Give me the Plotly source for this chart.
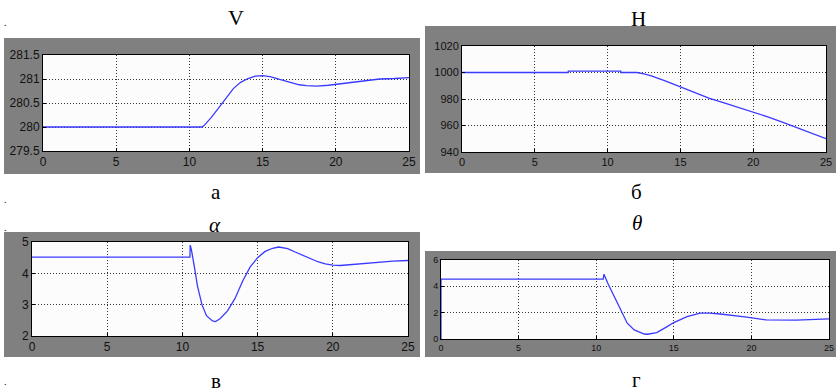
import plotly.graph_objects as go

W, H = 836, 392

# ---- data ----
t_v = [0, 10.86, 11.0, 11.5, 12.0, 12.5, 13.0, 13.5, 14.0, 14.5, 15.0, 15.5, 16.0, 16.5, 17.0,
       17.5, 18.0, 18.7, 19.5, 20.0, 21.0, 22.0, 23.0, 24.0, 25.0]
v_v = [280, 280, 280.03, 280.2, 280.4, 280.6, 280.8, 280.93, 281.01, 281.06, 281.07, 281.05, 281.01,
       280.96, 280.92, 280.88, 280.86, 280.85, 280.87, 280.89, 280.93, 280.97, 281.0, 281.01, 281.03]

t_h = [0, 7.3, 7.3, 10.9, 10.9, 12.0, 12.5, 13, 14, 15, 16, 17, 18, 19, 20, 21, 22, 23, 24, 25]
v_h = [1000, 1000, 1001, 1001, 1000, 1000, 999, 997.5, 993.5, 989, 984.5, 980.5, 977, 973.5,
       970.5, 966.5, 962.5, 958.5, 954.3, 950]

t_a = [0, 10.5, 10.52, 10.6, 10.8, 11.0, 11.3, 11.6, 12.0, 12.2, 12.5, 13.0, 13.5, 14.0, 14.5,
       15.0, 15.5, 16.0, 16.4, 17.0, 17.5, 18.0, 18.5, 19.0, 19.5, 20.0, 20.5, 21, 22, 23, 24, 25]
v_a = [4.52, 4.52, 4.9, 4.75, 4.2, 3.6, 3.0, 2.65, 2.48, 2.46, 2.55, 2.8, 3.2, 3.75, 4.2,
       4.5, 4.7, 4.8, 4.84, 4.79, 4.68, 4.57, 4.46, 4.37, 4.3, 4.26, 4.25, 4.27, 4.31, 4.36, 4.39, 4.41]

t_th = [0, 0, 10.45, 10.5, 10.74, 11.17, 11.6, 12.0, 12.45, 13.1, 13.3, 13.9, 14.57, 15.0, 15.85,
        16.7, 17.3, 18.0, 19.7, 20.95, 22.9, 25.0]
v_th = [0, 4.55, 4.55, 4.92, 4.26, 3.24, 2.1, 1.2, 0.69, 0.38, 0.36, 0.48, 0.94, 1.25, 1.7,
        1.96, 1.96, 1.9, 1.66, 1.45, 1.43, 1.53]

titles = ["V", "H", "α", "θ"]
labels = ["а", "б", "в", "г"]

# ---- layout geometry (pixels) ----
def px(x):
    return x / W

def py(y):
    return 1 - y / H

panels = [
    dict(plot=(43, 409, 55, 151), gray=(4, 420, 38, 174), fs=12, yr=[279.5, 281.5], dt=0.5, t=t_v, v=v_v),
    dict(plot=(462, 826, 46, 152), gray=(425, 836, 26, 173), fs=11, yr=[940, 1020], dt=20, t=t_h, v=v_h),
    dict(plot=(32, 408, 242, 336), gray=(4, 420, 232, 357), fs=12, yr=[2, 5], dt=1, t=t_a, v=v_a),
    dict(plot=(441, 829, 260, 339), gray=(425, 836, 251, 357), fs=9, yr=[0, 6], dt=2, t=t_th, v=v_th),
]

fig = go.Figure()
shapes = []
for i, p in enumerate(panels):
    n = "" if i == 0 else str(i + 1)
    x0, x1, y0, y1 = p["plot"]
    gx0, gx1, gy0, gy1 = p["gray"]
    shapes.append(dict(type="rect", xref="paper", yref="paper", x0=px(gx0), x1=px(gx1),
                       y0=py(gy1), y1=py(gy0), fillcolor="#808080", line_width=0, layer="below"))
    shapes.append(dict(type="rect", xref="paper", yref="paper", x0=px(x0), x1=px(x1),
                       y0=py(y1), y1=py(y0), fillcolor="#fcfcfc", line_width=0, layer="below"))
    fig.add_trace(go.Scatter(x=p["t"], y=p["v"], mode="lines", xaxis="x" + n, yaxis="y" + n,
                             line=dict(color="#3a3aff", width=1.3), showlegend=False,
                             hoverinfo="skip"))
    common = dict(showline=True, mirror=True, linecolor="#000", linewidth=1,
                  showgrid=True, gridcolor="#333", griddash="1px,2px", gridwidth=1,
                  zeroline=False, ticks="inside", ticklen=3, tickcolor="#000",
                  automargin=False,
                  tickfont=dict(family="Liberation Sans, Arial", size=p["fs"], color="#111"))
    fig.update_layout(**{
        "xaxis" + n: dict(domain=[px(x0), px(x1)], range=[0, 25], dtick=5, tick0=0,
                          anchor="y" + n, **common),
        "yaxis" + n: dict(domain=[py(y1), py(y0)], range=p["yr"], dtick=p["dt"],
                          anchor="x" + n, **common),
    })

ann = []
serif = "Liberation Serif"
title_pos = [(236, 17, 22, "normal"), (638, 19, 21, "normal"),
             (215, 225, 21, "italic"), (637, 223, 21, "italic")]
label_pos = [(216, 192, 21), (636, 192, 21), (216, 381, 21), (636, 380, 21)]
for txt, (x, y, s, st) in zip(titles, title_pos):
    ann.append(dict(text=txt, x=px(x), y=py(y), xref="paper", yref="paper", showarrow=False,
                    font=dict(family=serif, size=s, color="#000", style=st),
                    xanchor="center", yanchor="middle"))
for txt, (x, y, s) in zip(labels, label_pos):
    ann.append(dict(text=txt, x=px(x), y=py(y), xref="paper", yref="paper", showarrow=False,
                    font=dict(family=serif, size=s, color="#000"), xanchor="center", yanchor="middle"))
for y in [22, 199, 227, 381]:
    ann.append(dict(text=".", x=px(5), y=py(y), xref="paper", yref="paper", showarrow=False,
                    font=dict(family=serif, size=10, color="#000"), xanchor="center", yanchor="middle"))

fig.update_layout(width=W, height=H, margin=dict(l=0, r=0, t=0, b=0, autoexpand=False),
                  paper_bgcolor="#fff", plot_bgcolor="rgba(0,0,0,0)",
                  shapes=shapes, annotations=ann)

fig.write_html("out.html", config={"displayModeBar": False, "staticPlot": True},
               post_script="document.body.style.margin='0';document.body.style.overflow='hidden';")
